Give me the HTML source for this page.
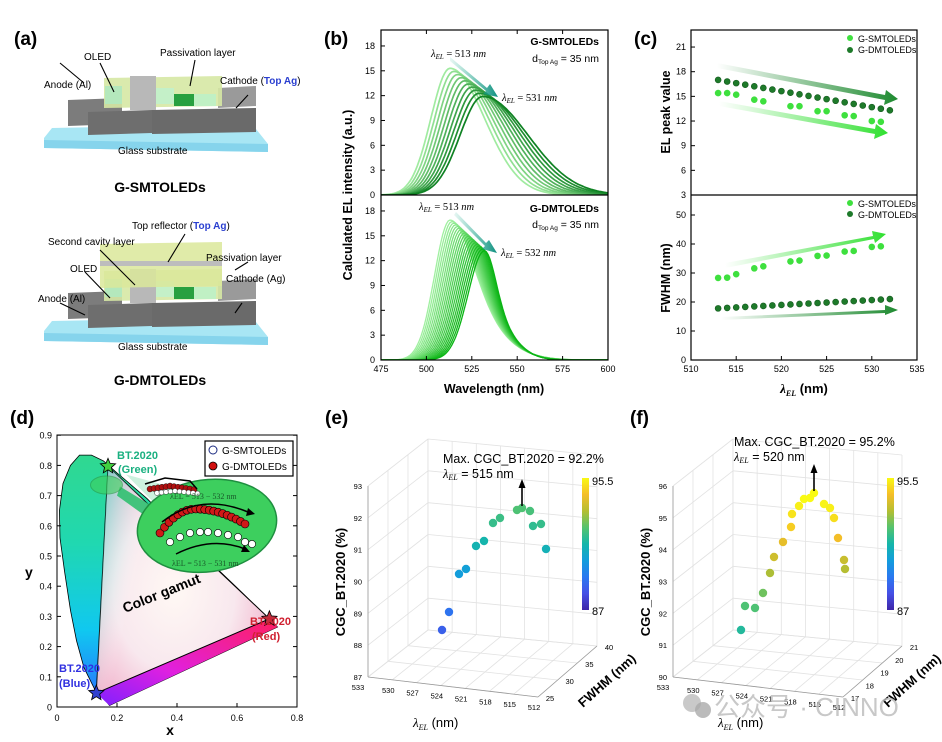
<!DOCTYPE html>
<html><head><meta charset="utf-8">
<style>
html,body{margin:0;padding:0;background:#fff;}
svg{display:block;font-family:"Liberation Sans",sans-serif;}
.b{font-weight:bold}
.tk{font-size:9px}
</style></head>
<body>
<svg id="s" width="942" height="742" viewBox="0 0 942 742" xmlns="http://www.w3.org/2000/svg">
<defs>
<linearGradient id="hs" x1="0" y1="0" x2="0" y2="1">
<stop offset="0" stop-color="#30d890"/><stop offset="0.35" stop-color="#20d8b0"/><stop offset="0.7" stop-color="#10c8f0"/><stop offset="1" stop-color="#2a6cff"/></linearGradient>
<radialGradient id="tri" cx="0.45" cy="0.55" r="0.7">
<stop offset="0" stop-color="#fff8f4"/><stop offset="0.5" stop-color="#f8e8ee"/><stop offset="1" stop-color="#f0a0c0"/></radialGradient>
<linearGradient id="triG" x1="0" y1="0" x2="1" y2="0.3">
<stop offset="0" stop-color="#20d8c0" stop-opacity="0.8"/><stop offset="0.35" stop-color="#ffffff" stop-opacity="0"/></linearGradient>
<linearGradient id="pur" x1="0" y1="1" x2="1" y2="0">
<stop offset="0" stop-color="#8020ff"/><stop offset="0.4" stop-color="#e020e0"/><stop offset="1" stop-color="#ff2060"/></linearGradient>
<linearGradient id="par" x1="0" y1="1" x2="0" y2="0">
<stop offset="0" stop-color="#3e26a8"/><stop offset="0.125" stop-color="#4650e6"/><stop offset="0.25" stop-color="#2a78f0"/><stop offset="0.375" stop-color="#139ddc"/><stop offset="0.5" stop-color="#15b6aa"/><stop offset="0.625" stop-color="#55c36e"/><stop offset="0.75" stop-color="#b4be32"/><stop offset="0.875" stop-color="#f5be28"/><stop offset="1" stop-color="#f9f914"/></linearGradient>
<linearGradient id="ad" x1="0" y1="0" x2="1" y2="0"><stop offset="0" stop-color="#1e8a30" stop-opacity="0"/><stop offset="1" stop-color="#1e8a30"/></linearGradient>
<linearGradient id="al" x1="0" y1="0" x2="1" y2="0"><stop offset="0" stop-color="#40e040" stop-opacity="0"/><stop offset="1" stop-color="#30e030"/></linearGradient>
<linearGradient id="ab" x1="0" y1="0" x2="1" y2="0"><stop offset="0" stop-color="#20b090" stop-opacity="0.1"/><stop offset="1" stop-color="#109080"/></linearGradient>
<clipPath id="cb1"><rect x="381" y="30" width="227" height="165"/></clipPath>
<clipPath id="cb2"><rect x="381" y="195" width="227" height="165"/></clipPath>
</defs>

<!-- ===== (a) ===== -->
<text x="14" y="45" font-size="19" class="b">(a)</text>
<g id="dev1">
<polygon points="52,128 252,124 268,144 268,152 44,148 44,138" fill="#a8e6f4"/>
<polygon points="44,140 268,144 268,152 44,148" fill="#86d4ec"/>
<polygon points="68,100 122,98 122,124 68,126" fill="#7c7c7c"/>
<polygon points="88,112 152,110 152,133 88,135" fill="#6e6e6e"/>
<polygon points="152,110 256,108 256,132 152,134" fill="#6a6a6a"/>
<polygon points="218,88 256,86 256,106 218,108" fill="#9a9a9a"/>
<polygon points="104,78 222,76 222,106 104,108" fill="#d6e8a4" opacity="0.9"/>
<rect x="105" y="86" width="17" height="18" fill="#b4e8bc"/>
<rect x="130" y="76" width="26" height="34" fill="#b8b8b8"/>
<rect x="156" y="88" width="18" height="16" fill="#c4f0c8"/>
<rect x="174" y="94" width="20" height="12" fill="#28a040"/>
<rect x="194" y="94" width="22" height="12" fill="#c0f0c4"/>
</g>
<use href="#dev1" transform="translate(0,193)"/>
<polygon points="100,244 222,242 222,286 100,288" fill="#dbe89a" opacity="0.85"/>
<rect x="100" y="261" width="122" height="5" fill="#bdbdbd"/>
<g stroke="#000" stroke-width="1.1">
<line x1="60" y1="63" x2="84" y2="83"/><line x1="100" y1="63" x2="114" y2="92"/>
<line x1="195" y1="60" x2="190" y2="86"/><line x1="248" y1="95" x2="236" y2="108"/>
<line x1="100" y1="250" x2="135" y2="285"/><line x1="185" y1="234" x2="168" y2="262"/>
<line x1="248" y1="262" x2="235" y2="270"/><line x1="85" y1="272" x2="110" y2="298"/>
<line x1="60" y1="303" x2="85" y2="315"/><line x1="242" y1="303" x2="235" y2="313"/>
</g>
<g font-size="10">
<text x="84" y="60">OLED</text>
<text x="160" y="56">Passivation layer</text>
<text x="44" y="88">Anode (Al)</text>
<text x="220" y="84">Cathode (<tspan fill="#2a3fd0" font-weight="bold">Top Ag</tspan>)</text>
<text x="118" y="154">Glass substrate</text>
<text x="132" y="229">Top reflector (<tspan fill="#2a3fd0" font-weight="bold">Top Ag</tspan>)</text>
<text x="48" y="245">Second cavity layer</text>
<text x="206" y="261">Passivation layer</text>
<text x="70" y="272">OLED</text>
<text x="38" y="302">Anode (Al)</text>
<text x="226" y="282">Cathode (Ag)</text>
<text x="118" y="350">Glass substrate</text>
</g>
<text x="160" y="192" font-size="14" class="b" text-anchor="middle">G-SMTOLEDs</text>
<text x="160" y="385" font-size="14" class="b" text-anchor="middle">G-DMTOLEDs</text>

<!-- ===== (b) ===== -->
<text x="324" y="45" font-size="19" class="b">(b)</text>
<g id="bcurves"></g>
<rect x="381" y="30" width="227" height="330" fill="none" stroke="#000" stroke-width="1.2"/>
<line x1="381" y1="195" x2="608" y2="195" stroke="#000" stroke-width="1.2"/>
<g id="baxes" class="tk"></g>
<text transform="translate(352,195) rotate(-90)" text-anchor="middle" font-size="12.5" class="b">Calculated EL intensity (a.u.)</text>
<text x="494" y="393" text-anchor="middle" font-size="12.5" class="b">Wavelength (nm)</text>
<g font-size="10.5" font-family="Liberation Serif,serif">
<text x="431" y="57"><tspan font-style="italic">λ</tspan><tspan font-size="7" dy="2" font-style="italic">EL</tspan><tspan dy="-2"> = 513 </tspan><tspan font-style="italic">nm</tspan></text>
<text x="502" y="101"><tspan font-style="italic">λ</tspan><tspan font-size="7" dy="2" font-style="italic">EL</tspan><tspan dy="-2"> = 531 </tspan><tspan font-style="italic">nm</tspan></text>
<text x="419" y="210"><tspan font-style="italic">λ</tspan><tspan font-size="7" dy="2" font-style="italic">EL</tspan><tspan dy="-2"> = 513 </tspan><tspan font-style="italic">nm</tspan></text>
<text x="501" y="256"><tspan font-style="italic">λ</tspan><tspan font-size="7" dy="2" font-style="italic">EL</tspan><tspan dy="-2"> = 532 </tspan><tspan font-style="italic">nm</tspan></text>
</g>
<g font-size="10.5" class="b" text-anchor="end">
<text x="599" y="45">G-SMTOLEDs</text>
<text x="599" y="212">G-DMTOLEDs</text>
</g>
<g font-size="10.5" text-anchor="end">
<text x="599" y="62">d<tspan font-size="6.5" dy="2">Top Ag</tspan><tspan dy="-2"> = 35 nm</tspan></text>
<text x="599" y="228">d<tspan font-size="6.5" dy="2">Top Ag</tspan><tspan dy="-2"> = 35 nm</tspan></text>
</g>
<g fill="url(#ab)">
<polygon points="450,57 487,88 490,84 498,97 483,94 486,91 450,61"/>
<polygon points="456,212 486,243 489,240 497,253 482,249 485,246 454,215"/>
</g>

<!-- ===== (c) ===== -->
<text x="634" y="45" font-size="19" class="b">(c)</text>
<g id="cpts"></g>
<rect x="691" y="30" width="226" height="330" fill="none" stroke="#000" stroke-width="1.2"/>
<line x1="691" y1="195" x2="917" y2="195" stroke="#000" stroke-width="1.2"/>
<g id="caxes" class="tk"></g>
<text transform="translate(670,112) rotate(-90)" text-anchor="middle" font-size="12.5" class="b">EL peak value</text>
<text transform="translate(670,278) rotate(-90)" text-anchor="middle" font-size="12.5" class="b">FWHM (nm)</text>
<text x="804" y="393" text-anchor="middle" font-size="13" class="b"><tspan font-style="italic" font-family="Liberation Serif,serif">λ</tspan><tspan font-size="8" dy="3" font-style="italic" font-family="Liberation Serif,serif">EL</tspan><tspan dy="-3"> (nm)</tspan></text>
<g font-size="9">
<circle cx="850" cy="38" r="3" fill="#3ee03e"/><text x="858" y="42">G-SMTOLEDs</text>
<circle cx="850" cy="50" r="3" fill="#1e7a2a"/><text x="858" y="53">G-DMTOLEDs</text>
<circle cx="850" cy="203" r="3" fill="#3ee03e"/><text x="858" y="207">G-SMTOLEDs</text>
<circle cx="850" cy="214" r="3" fill="#1e7a2a"/><text x="858" y="218">G-DMTOLEDs</text>
</g>

<!-- ===== (d) ===== -->
<text x="10" y="424" font-size="19" class="b">(d)</text>
<g id="cie"></g>
<rect x="57" y="435" width="240" height="272" fill="none" stroke="#000" stroke-width="1"/>
<g id="daxes" class="tk" font-size="10"></g>
<text x="25" y="577" font-size="14" class="b">y</text>
<text x="170" y="735" font-size="14" class="b" text-anchor="middle">x</text>
<rect x="205" y="441" width="88" height="35" fill="#fff" stroke="#000" stroke-width="1.2"/>
<circle cx="213" cy="450" r="4" fill="#fff" stroke="#1a2a80" stroke-width="1"/>
<circle cx="213" cy="466" r="4" fill="#d01010" stroke="#000" stroke-width="0.8"/>
<g font-size="10"><text x="222" y="454">G-SMTOLEDs</text><text x="222" y="470">G-DMTOLEDs</text></g>
<g font-size="11" class="b">
<text x="117" y="459" fill="#1ab080">BT.2020</text><text x="118" y="473" fill="#1ab080">(Green)</text>
<text x="250" y="625" fill="#d02030">BT.2020</text><text x="252" y="640" fill="#d02030">(Red)</text>
<text x="59" y="672" fill="#3030e0">BT.2020</text><text x="59" y="687" fill="#3030e0">(Blue)</text>
</g>
<text transform="translate(125,613) rotate(-22)" font-size="14" class="b">Color gamut</text>

<!-- ===== (e),(f) ===== -->
<text x="325" y="424" font-size="19" class="b">(e)</text>
<text x="630" y="424" font-size="19" class="b">(f)</text>
<g id="e3d"></g>
<g id="f3d" transform="translate(305,0)"></g>
<text x="443" y="463" font-size="12.5">Max. CGC_BT.2020 = 92.2%</text>
<text x="443" y="478" font-size="12.5"><tspan font-style="italic" font-family="Liberation Serif,serif">λ</tspan><tspan font-size="8" dy="2" font-style="italic" font-family="Liberation Serif,serif">EL</tspan><tspan dy="-2"> = 515 nm</tspan></text>
<text x="734" y="446" font-size="12.5">Max. CGC_BT.2020 = 95.2%</text>
<text x="734" y="461" font-size="12.5"><tspan font-style="italic" font-family="Liberation Serif,serif">λ</tspan><tspan font-size="8" dy="2" font-style="italic" font-family="Liberation Serif,serif">EL</tspan><tspan dy="-2"> = 520 nm</tspan></text>
<circle cx="692" cy="703" r="9" fill="#bbb" opacity="0.8"/><circle cx="703" cy="710" r="8" fill="#aaa" opacity="0.8"/>
<text x="714" y="716" font-size="26" fill="#bbb" opacity="0.8">公众号 · CINNO</text>
</svg>
<script>
(function(){
var NS='http://www.w3.org/2000/svg';
function el(p,t,a,txt){var e=document.createElementNS(NS,t);for(var k in a)e.setAttribute(k,a[k]);if(txt!==undefined)e.textContent=txt;p.appendChild(e);return e;}
function g(id){return document.getElementById(id);}
function mix(a,b,t){return 'rgb('+[0,1,2].map(function(i){return Math.round(a[i]+(b[i]-a[i])*t)}).join(',')+')';}
var bc=g('bcurves');
function bx(l){return 381+(l-475)*1.816;}
var gtop=el(bc,'g',{'clip-path':'url(#cb1)'}),gbot=el(bc,'g',{'clip-path':'url(#cb2)'});
var n=10,i,l,t,p,A,d,v;
for(i=0;i<n;i++){t=i/(n-1);p=513+18*t;A=15.3-3.4*t;var sl=10.5+2*t,sr=19+6*t;d='';
 for(l=475;l<=600;l+=1){var s=l<p?sl:sr;v=A*Math.exp(-0.5*Math.pow((l-p)/s,2));d+=(l==475?'M':'L')+bx(l).toFixed(1)+','+(195-v*8.28).toFixed(1);}
 el(gtop,'path',{d:d,fill:'none',stroke:mix([160,235,160],[15,130,35],t),'stroke-width':1.7});}
n=20;
for(i=0;i<n;i++){t=i/(n-1);p=513+19*t;A=16.9-3.7*t;d='';
 for(l=475;l<=600;l+=1){if(l<p){v=A*Math.exp(-0.5*Math.pow((l-p)/(8.5+0.5*t),2));}else{var q=l-p;v=A*(0.55*Math.exp(-0.5*Math.pow(q/(6+6*(1-t)),2))+0.45*Math.exp(-0.5*Math.pow(q/(13+8*(1-t)),2)));}
 d+=(l==475?'M':'L')+bx(l).toFixed(1)+','+(360-v*8.28).toFixed(1);}
 el(gbot,'path',{d:d,fill:'none',stroke:mix([160,240,160],[10,180,20],t),'stroke-width':1.3});}
var ba=g('baxes');
[475,500,525,550,575,600].forEach(function(l){var x=bx(l);el(ba,'line',{x1:x,y1:360,x2:x,y2:356,stroke:'#000'});el(ba,'line',{x1:x,y1:30,x2:x,y2:34,stroke:'#000'});el(ba,'text',{x:x,y:372,'text-anchor':'middle'},l);});
[0,3,6,9,12,15,18].forEach(function(v){[195,360].forEach(function(b){var y=b-v*8.28;el(ba,'line',{x1:381,y1:y,x2:385,y2:y,stroke:'#000'});el(ba,'text',{x:375,y:y+3,'text-anchor':'end'},v);});});
var cp=g('cpts');
function cx(l){return 691+(l-510)*9.04;}
function ct(v){return 195-(v-3)*8.22;} function cb(v){return 360-v*2.9;}
el(cp,'polygon',{points:'717,63 885,95 886,90 898,99 884,105 885,100 717,68',fill:'url(#ad)'});
el(cp,'polygon',{points:'719,101 875,129 876,124 888,133 874,139 875,134 719,106',fill:'url(#al)'});
el(cp,'polygon',{points:'725,263 873,236 872,231 886,234 875,243 874,239 725,268',fill:'url(#al)'});
el(cp,'polygon',{points:'721,317 885,310 885,305 898,310 885,315 885,313 721,320',fill:'url(#ad)'});
var smx=[513,514,515,517,518,521,522,524,525,527,528,530,531];
var smy=[15.4,15.4,15.2,14.6,14.4,13.8,13.8,13.2,13.2,12.7,12.6,12.0,11.9];
var smf=[28.3,28.4,29.6,31.6,32.3,34,34.3,35.9,36,37.4,37.6,39,39.2];
for(i=0;i<20;i++){l=513+i;v=17.0-3.7*i/19;var f=17.8+3.2*i/19;
 el(cp,'circle',{cx:cx(l),cy:ct(v),r:3,fill:'#1e7a2a',stroke:'#145a1e','stroke-width':0.6});
 el(cp,'circle',{cx:cx(l),cy:cb(f),r:3,fill:'#1e7a2a',stroke:'#145a1e','stroke-width':0.6});}
smx.forEach(function(l,i){el(cp,'circle',{cx:cx(l),cy:ct(smy[i]),r:3.3,fill:'#3ee03e'});el(cp,'circle',{cx:cx(l),cy:cb(smf[i]),r:3.3,fill:'#3ee03e'});});
var ca=g('caxes');
[510,515,520,525,530,535].forEach(function(l){var x=cx(l);el(ca,'line',{x1:x,y1:360,x2:x,y2:356,stroke:'#000'});el(ca,'text',{x:x,y:372,'text-anchor':'middle'},l);});
[3,6,9,12,15,18,21].forEach(function(v){var y=ct(v);el(ca,'line',{x1:691,y1:y,x2:695,y2:y,stroke:'#000'});el(ca,'text',{x:686,y:y+3,'text-anchor':'end'},v);});
[0,10,20,30,40,50].forEach(function(v){var y=cb(v);el(ca,'line',{x1:691,y1:y,x2:695,y2:y,stroke:'#000'});el(ca,'text',{x:686,y:y+3,'text-anchor':'end'},v);});
function dx(x){return 57+x*300;} function dy(y){return 707-y*302;}
function P(a){return a.map(function(p){return dx(p[0]).toFixed(1)+','+dy(p[1]).toFixed(1)}).join(' ');}
var ci=g('cie');
var loc=[[0.175,0.005],[0.155,0.03],[0.125,0.06],[0.09,0.13],[0.065,0.22],[0.045,0.32],[0.025,0.45],[0.01,0.56],[0.008,0.65],[0.02,0.74],[0.045,0.8],[0.075,0.834],[0.115,0.834],[0.155,0.815],[0.2,0.775],[0.23,0.75],[0.3,0.69],[0.4,0.59],[0.5,0.49],[0.6,0.395],[0.735,0.265]];
el(ci,'polygon',{points:P(loc),fill:'url(#hs)',stroke:'#000','stroke-width':0.8});
var Rr=[0.708,0.292],Gg=[0.170,0.797],Bb=[0.131,0.046];
el(ci,'polygon',{points:P([Rr,[0.735,0.265],[0.175,0.005],Bb]),fill:'url(#pur)'});
el(ci,'polygon',{points:P([Rr,Gg,Bb]),fill:'url(#tri)',stroke:'#000','stroke-width':1});
el(ci,'polygon',{points:P([Rr,Gg,Bb]),fill:'url(#triG)'});
el(ci,'polygon',{points:P([[0.21,0.73],[0.2,0.7],[0.34,0.6],[0.36,0.64]]),fill:'#30c070',opacity:0.9});
el(ci,'polygon',{points:P([[0.23,0.77],[0.56,0.68],[0.6,0.56],[0.34,0.66]]),fill:'#6fd8a0',opacity:0.35});
el(ci,'ellipse',{cx:dx(0.165),cy:dy(0.735),rx:16,ry:9,fill:'#3ecf5a',opacity:0.6,stroke:'#2a9a40'});
el(ci,'ellipse',{cx:dx(0.5),cy:dy(0.6),rx:70,ry:46,fill:'#3dcf5e',stroke:'#1f8f40','stroke-width':1.5,transform:'rotate(-8 '+dx(0.5)+' '+dy(0.6)+')'});
for(i=0;i<12;i++){el(ci,'circle',{cx:150+i*4,cy:486+Math.abs(i-5)*0.6,r:3,fill:'#b01010',stroke:'#000','stroke-width':0.4});}
for(i=0;i<10;i++){el(ci,'circle',{cx:157+i*4.5,cy:491+Math.abs(i-4)*0.5,r:2.5,fill:'#fff',stroke:'#000','stroke-width':0.4});}
el(ci,'polyline',{points:'145,484 165,478 190,481 197,489',fill:'none',stroke:'#000','stroke-width':1.5});
for(i=0;i<20;i++){t=i/19;var x=160+t*85;var y;
 if(x<195){var u=(x-195)/35;y=509+24*u*u;}else{var u2=(x-195)/50;y=509+15*u2*u2;}
 el(ci,'circle',{cx:x,cy:y,r:4,fill:'#d01818',stroke:'#000','stroke-width':0.6});}
var wx=[170,180,190,200,208,218,228,238,245,252],wy=[542,537,533,532,532,533,535,537,542,544];
for(i=0;i<10;i++)el(ci,'circle',{cx:wx[i],cy:wy[i],r:3.6,fill:'#fff',stroke:'#000','stroke-width':0.6});
el(ci,'path',{d:'M162,522 Q200,492 248,512',fill:'none',stroke:'#000','stroke-width':1.5});
el(ci,'polygon',{points:'248,508 255,514 246,516',fill:'#000'});
el(ci,'path',{d:'M176,554 Q212,536 245,549',fill:'none',stroke:'#000','stroke-width':1.5});
el(ci,'polygon',{points:'244,545 250,552 241,552',fill:'#000'});
el(ci,'text',{x:170,y:499,'font-size':8,fill:'#1a5a2a','font-family':'Liberation Serif,serif'},'λEL = 513 − 532 nm');
el(ci,'text',{x:172,y:566,'font-size':8,fill:'#1a5a2a','font-family':'Liberation Serif,serif'},'λEL = 513 − 531 nm');
function star(cx,cy,r,fill){var pts=[];for(var k=0;k<10;k++){var a=-Math.PI/2+k*Math.PI/5,rr=k%2?r*0.45:r;pts.push((cx+rr*Math.cos(a)).toFixed(1)+','+(cy+rr*Math.sin(a)).toFixed(1));}el(ci,'polygon',{points:pts.join(' '),fill:fill,stroke:'#000','stroke-width':0.8});}
star(dx(Gg[0]),dy(Gg[1]),8,'#40d040');star(dx(Rr[0]),dy(Rr[1]),8,'#c03040');star(dx(Bb[0]),dy(Bb[1]),8,'#3040d0');
var da=g('daxes');
[0,0.2,0.4,0.6,0.8].forEach(function(v){var x=dx(v);el(da,'line',{x1:x,y1:707,x2:x,y2:703,stroke:'#000'});el(da,'text',{x:x,y:721,'text-anchor':'middle'},v);});
[0,0.1,0.2,0.3,0.4,0.5,0.6,0.7,0.8,0.9].forEach(function(v){var y=dy(v);el(da,'line',{x1:57,y1:y,x2:61,y2:y,stroke:'#000'});el(da,'line',{x1:297,y1:y,x2:293,y2:y,stroke:'#000'});el(da,'text',{x:52,y:y+3.5,'text-anchor':'end'},v);});
var par=[[62,38,168],[70,80,230],[42,120,240],[19,157,220],[21,182,170],[85,195,110],[180,190,50],[245,190,40],[249,250,20]];
function pc(v){var t=Math.max(0,Math.min(1,(v-87)/8.5))*8,i=Math.min(7,Math.floor(t));return mix(par[i],par[i+1],t-i);}
function lerp(a,b,t){return [a[0]+(b[0]-a[0])*t,a[1]+(b[1]-a[1])*t];}
function ext(o,a){for(var k in a)o[k]=a[k];return o;}
function build(id,zt,ft,pts,vals,arrowX,arrowY){
 var p=g(id),gs={stroke:'#e2e2e2','stroke-width':0.8};
 var A0=[368,677],Bk=[428,630],Rb=[597,646],F=[538,697],h=191,i,a,b,dyy;
 for(i=0;i<=7;i++){a=lerp(A0,F,i/7);b=lerp(Bk,Rb,i/7);el(p,'line',ext({x1:a[0],y1:a[1],x2:b[0],y2:b[1]},gs));}
 for(i=0;i<=3;i++){a=lerp(A0,Bk,i/3);b=lerp(F,Rb,i/3);el(p,'line',ext({x1:a[0],y1:a[1],x2:b[0],y2:b[1]},gs));}
 for(i=0;i<=6;i++){dyy=-i*h/6;el(p,'line',ext({x1:A0[0],y1:A0[1]+dyy,x2:Bk[0],y2:Bk[1]+dyy},gs));el(p,'line',ext({x1:Bk[0],y1:Bk[1]+dyy,x2:Rb[0],y2:Rb[1]+dyy},gs));}
 for(i=0;i<=7;i++){b=lerp(Bk,Rb,i/7);el(p,'line',ext({x1:b[0],y1:b[1],x2:b[0],y2:b[1]-h},gs));}
 for(i=0;i<=3;i++){b=lerp(A0,Bk,i/3);el(p,'line',ext({x1:b[0],y1:b[1],x2:b[0],y2:b[1]-h},gs));}
 el(p,'line',{x1:A0[0],y1:A0[1],x2:A0[0],y2:A0[1]-h,stroke:'#999','stroke-width':0.8});
 el(p,'line',{x1:A0[0],y1:A0[1],x2:F[0],y2:F[1],stroke:'#999','stroke-width':0.8});
 el(p,'line',{x1:F[0],y1:F[1],x2:Rb[0],y2:Rb[1],stroke:'#999','stroke-width':0.8});
 zt.forEach(function(v,i){var y=A0[1]-i*h/6;el(p,'text',{x:362,y:y+3,'text-anchor':'end','font-size':7.5},v);});
 [533,530,527,524,521,518,515,512].forEach(function(v,i){var a=lerp(A0,F,i/7);el(p,'text',{x:a[0]-4+(i==0?-6:0),y:a[1]+13,'text-anchor':'middle','font-size':7.5},v);});
 ft.forEach(function(v,i){var a=lerp(F,Rb,i/(ft.length-1));el(p,'text',{x:a[0]+12,y:a[1]+4,'text-anchor':'middle','font-size':7.5},v);});
 el(p,'text',{transform:'translate(345,582) rotate(-90)','text-anchor':'middle','font-size':13,'font-weight':'bold'},'CGC_BT.2020 (%)');
 var tx=el(p,'text',{x:413,y:727,'font-size':13});
 el(tx,'tspan',{'font-style':'italic','font-family':'Liberation Serif,serif'},'λ');
 el(tx,'tspan',{'font-size':8,dy:3,'font-style':'italic','font-family':'Liberation Serif,serif'},'EL');
 el(tx,'tspan',{dy:-3},' (nm)');
 el(p,'text',{transform:'translate(583,708) rotate(-42)','font-size':13,'font-weight':'bold'},'FWHM (nm)');
 el(p,'rect',{x:582,y:478,width:7,height:132,fill:'url(#par)'});
 el(p,'text',{x:592,y:485,'font-size':11},'95.5');el(p,'text',{x:592,y:615,'font-size':11},'87');
 pts.forEach(function(q,i){el(p,'circle',{cx:q[0],cy:q[1],r:4.2,fill:pc(vals[i])});});
 el(p,'line',{x1:arrowX,y1:arrowY,x2:arrowX,y2:arrowY-20,stroke:'#000','stroke-width':1.6});
 el(p,'polygon',{points:(arrowX-3.5)+','+(arrowY-18)+' '+(arrowX+3.5)+','+(arrowY-18)+' '+arrowX+','+(arrowY-27),fill:'#000'});
}
build('e3d',[87,88,89,90,91,92,93],[25,30,35,40],
 [[442,630],[449,612],[459,574],[466,569],[476,546],[484,541],[493,523],[500,518],[517,510],[522,508],[530,511],[533,526],[541,524],[546,549]],
 [88.5,89,90.2,90.3,91.1,91.2,91.8,91.9,92.2,92.2,92.1,91.7,91.8,91.0],522,506);
var fp=[[741,630],[745,606],[755,608],[763,593],[770,573],[774,557],[783,542],[791,527],[792,514],[799,506],[804,499],[810,498],[814,493],[824,504],[830,508],[834,518],[838,538],[844,560],[845,569]].map(function(q){return [q[0]-305,q[1]];});
build('f3d',[90,91,92,93,94,95,96],[17,18,19,20,21],fp,
 [91.5,92.2,92.2,92.6,93.3,93.8,94.2,94.7,95.1,95.3,95.5,95.6,95.6,95.4,95.3,95.0,94.4,93.7,93.4],509,491);
})();
</script>
</body></html>
